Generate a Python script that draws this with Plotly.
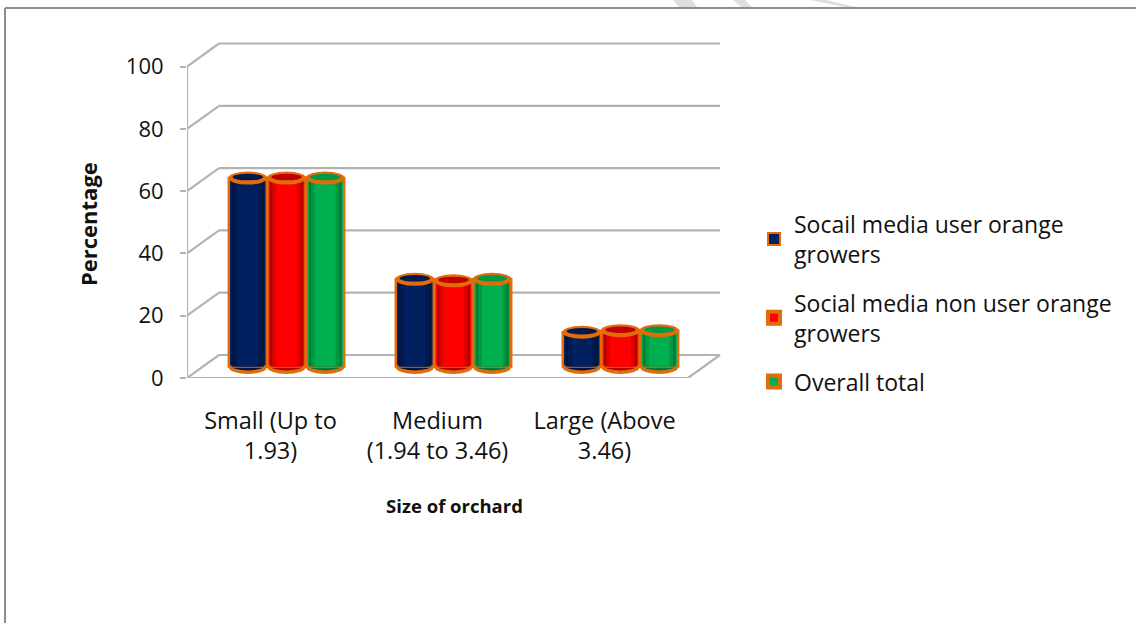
import plotly.graph_objects as go

categories = ["Small (Up to<br>1.93)", "Medium<br>(1.94 to 3.46)", "Large (Above<br>3.46)"]
series_names = ["Socail media user orange<br>growers", "Social media non user orange<br>growers", "Overall total"]
user_values = [60.5, 28, 11]
non_user_values = [60.5, 27.5, 11.5]
total_values = [60.5, 28, 11.5]
y_ticks = [0, 20, 40, 60, 80, 100]

ALL = [user_values, non_user_values, total_values]
SHADES = [
    ["#00153f", "#001a50", "#002060"],
    ["#b00000", "#e00000", "#ff0000"],
    ["#007a38", "#00973f", "#00b050"],
]
TOPS = ["#00194d", "#c00000", "#009a45"]
ORANGE = "#e36c0a"
GRID = "#b3b3b3"
FONT = "Open Sans"
W, H = 1136, 623
L, R, T, B = 187, 722, 40, 378
PX_X, PX_Y = 167.0, 3.115           # pixels per category, per percent
DX, DY = 32 / PX_X, 23 / PX_Y       # depth of the 3-D floor, in axis units
x_range = [-83.5 / PX_X, -83.5 / PX_X + (R - L) / PX_X]
y_range = [0, (B - T) / PX_Y]
x_left, x_right = x_range[0], 2 + 83.5 / PX_X
BAR_STEP, BAR_W = 38.7 / PX_X, 38 / PX_X
ELL_H = 13 / PX_Y

def px(x): return (x - L) / (R - L)
def py(y): return (B - y) / (B - T)

fig = go.Figure()
shapes = []
def line(x0, y0, x1, y1, color=GRID, width=2.2, layer="below", xref="x", yref="y"):
    shapes.append(dict(type="line", xref=xref, yref=yref, x0=x0, y0=y0, x1=x1, y1=y1,
                       line=dict(color=color, width=width), layer=layer))

# faint watermark strokes cut by the top of the page
for a, b, c, d in [(673, 692, 698, 680), (733, 745, 753, 742), (810, 826, 860, 850)]:
    shapes.append(dict(type="path", xref="paper", yref="paper", layer="below",
                       path=f"M{px(a)},{py(0)} L{px(b)},{py(0)} L{px(c)},{py(8)} L{px(d)},{py(8)} Z",
                       fillcolor="#dedede", line=dict(width=0)))

for v in y_ticks:
    line(x_left, v, x_left + DX, v + DY)
    line(x_left + DX, v + DY, x_right + DX, v + DY)
line(x_left, 0, x_left, 100)
line(x_left, 0, x_right, 0)
line(x_right, 0, x_right + DX, DY)

def ell(cx, cy, w, h, color, layer):
    shapes.append(dict(type="circle", xref="x", yref="y", x0=cx - w / 2, x1=cx + w / 2,
                       y0=cy - h / 2, y1=cy + h / 2, fillcolor=color, line=dict(width=0), layer=layer))

for s, vals in enumerate(ALL):
    xs = [i + DX / 2 + (s - 1) * BAR_STEP for i in range(3)]
    for x in xs:
        ell(x, DY / 2 - 0.3, BAR_W, ELL_H, ORANGE, "below")
        ell(x, DY / 2 + 0.2, BAR_W * 0.85, ELL_H * 0.7, SHADES[s][0], "below")
    fig.add_trace(go.Bar(x=xs, y=vals, base=DY / 2, width=BAR_W, showlegend=False, hoverinfo="skip",
                         marker=dict(color=SHADES[s][2], line=dict(color=ORANGE, width=2.5))))
    for k, f in enumerate([0.86, 0.74, 0.55]):
        fig.add_trace(go.Bar(x=xs, y=vals, base=DY / 2, width=BAR_W * f,
                             marker=dict(color=SHADES[s][k], line=dict(width=0)),
                             showlegend=False, hoverinfo="skip"))
    for x, v in zip(xs, vals):
        ell(x, v + DY / 2, BAR_W * 1.03, ELL_H, ORANGE, "above")
        ell(x, v + DY / 2 + 0.3, BAR_W * 0.8, ELL_H * 0.5, TOPS[s], "above")
    # legend entry with the thick orange swatch border
    fig.add_trace(go.Bar(x=[None], y=[None], name=series_names[s], legendgroup=f"g{s}", showlegend=True,
                         marker=dict(color=SHADES[s][2], line=dict(color=ORANGE, width=2 if s == 0 else 4))))

# page frame: only top and left edges show
line(px(5), py(8), px(W), py(8), color="#8c8c8c", width=2, xref="paper", yref="paper")
line(px(5), py(8), px(5), py(H), color="#8c8c8c", width=2, xref="paper", yref="paper")

fig.update_layout(
    width=W, height=H, autosize=False, paper_bgcolor="white", plot_bgcolor="rgba(0,0,0,0)",
    margin=dict(l=L, r=W - R, t=T, b=H - B), barmode="overlay", shapes=shapes,
    font=dict(family=FONT, size=21, color="#111111"),
    xaxis=dict(range=x_range, tickvals=[0, 1, 2], ticktext=categories, showgrid=False, zeroline=False,
               showline=False, ticks="", tickfont=dict(size=23.5), automargin=False, ticklabelstandoff=26,
               title=dict(text="<b>Size of orchard</b>", font=dict(size=18.5), standoff=35)),
    yaxis=dict(range=y_range, tickvals=y_ticks, showgrid=False, zeroline=False, showline=False,
               ticks="outside", ticklen=6, tickwidth=2, tickcolor=GRID, tickfont=dict(size=22), automargin=False,
               ticklabelstandoff=12),
    annotations=[dict(text="<b>Percentage</b>", textangle=-90, showarrow=False, font=dict(size=22),
                      xref="paper", yref="paper", x=px(88), y=py(224), xanchor="center", yanchor="middle")],
    legend=dict(x=px(754), y=py(202.5), xanchor="left", yanchor="top", font=dict(size=23),
                bgcolor="rgba(0,0,0,0)", tracegroupgap=16, itemwidth=30),
)
fig.write_html("out.html", config={"displayModeBar": False}, post_script="document.body.style.margin='0';")
